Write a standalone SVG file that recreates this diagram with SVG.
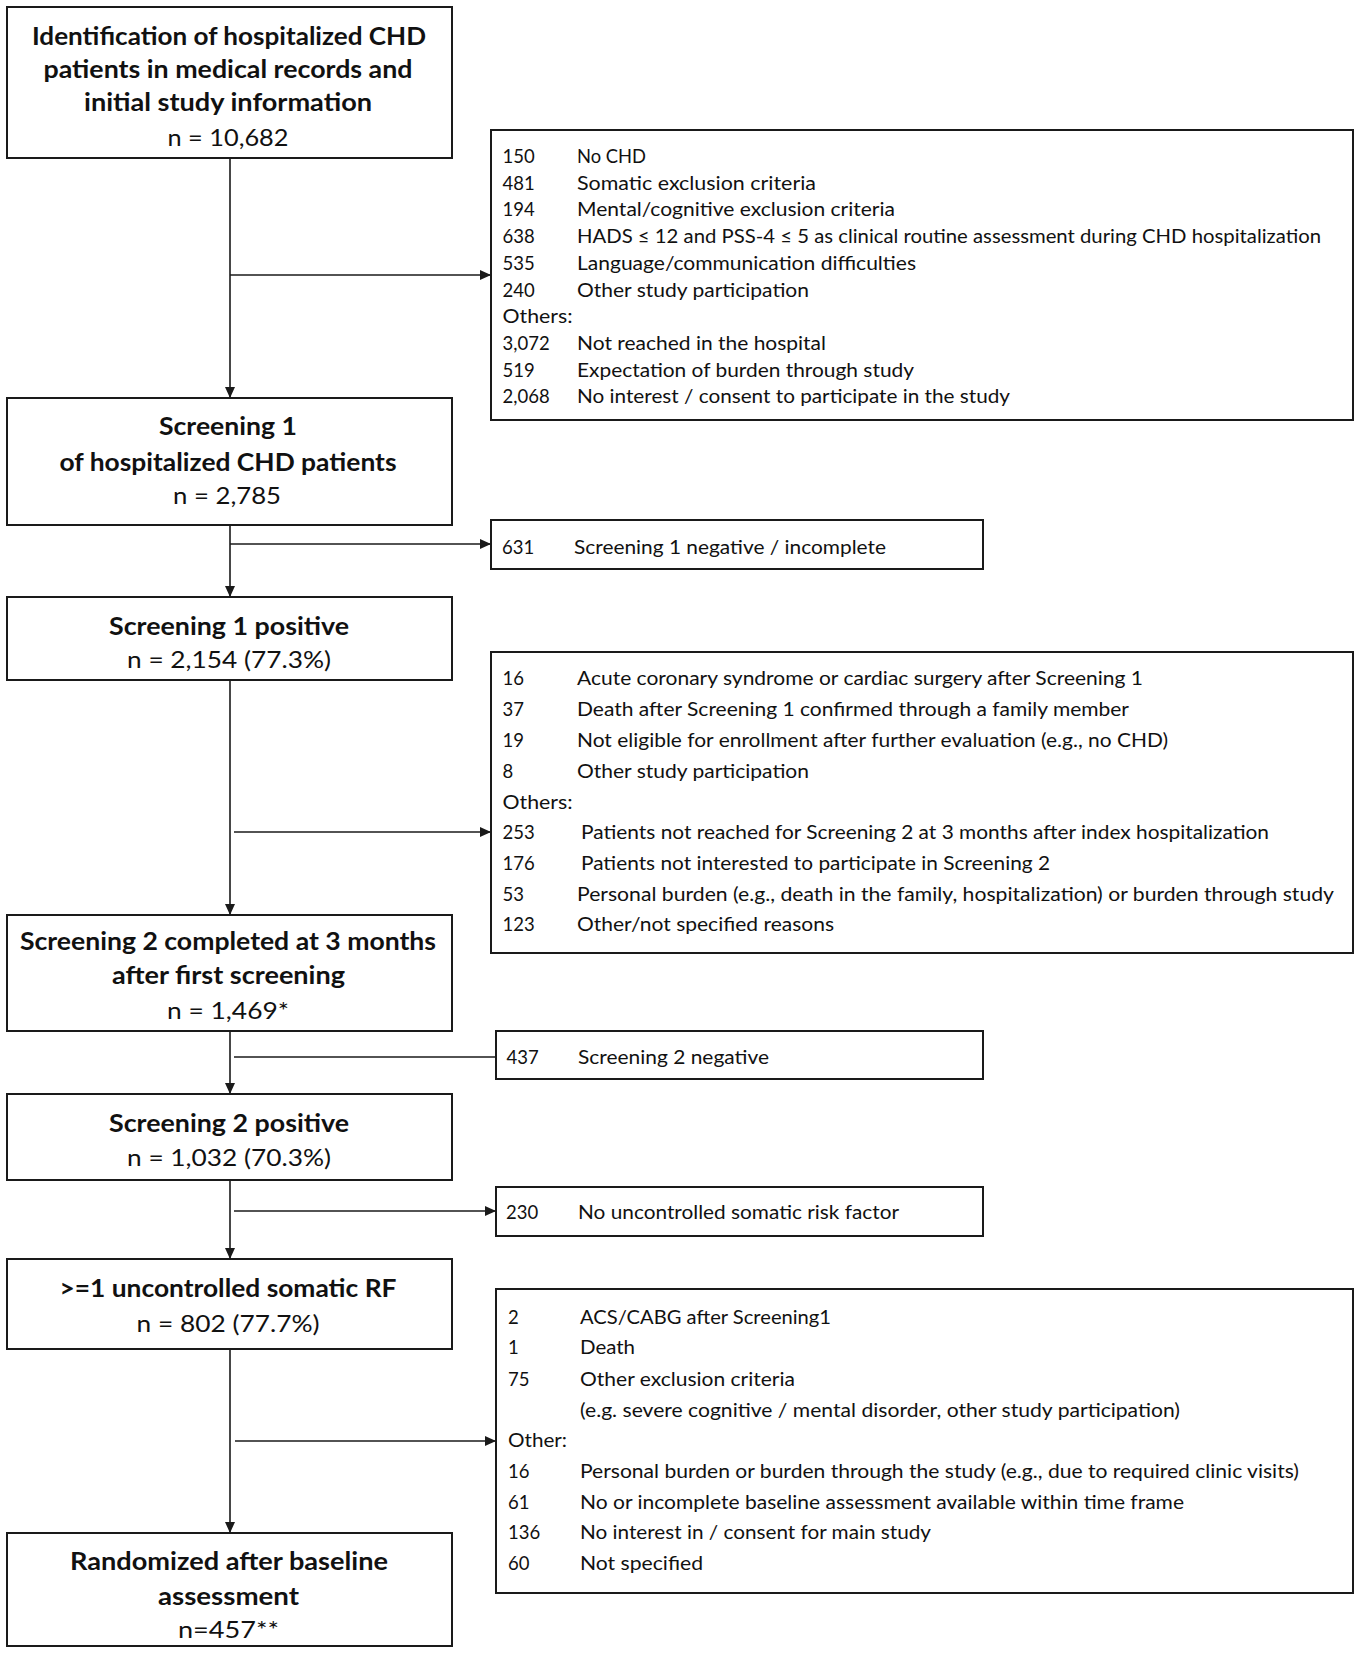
<svg xmlns="http://www.w3.org/2000/svg" width="1358" height="1653" viewBox="0 0 1358 1653">
<style>
.box{fill:#fff;stroke:#1a1a1a;stroke-width:2}
.ln{fill:none;stroke:#1a1a1a;stroke-width:1.6}
.h{font-family:Lato,"Liberation Sans",sans-serif;font-size:24px;font-weight:bold;fill:#111;text-anchor:middle}
.n{font-family:Lato,"Liberation Sans",sans-serif;font-size:24px;fill:#111;text-anchor:middle}
.t{font-family:Lato,"Liberation Sans",sans-serif;font-size:18.5px;fill:#111}
</style>
<defs>
<marker id="ah" markerUnits="userSpaceOnUse" markerWidth="12" markerHeight="10" refX="11" refY="5" orient="auto">
<path d="M0,0 L11,5 L0,10 Z" fill="#1a1a1a"/>
</marker>
</defs>
<rect width="1358" height="1653" fill="#fff"/>
<g id="connectors">
<line class="ln" x1="230" y1="158" x2="230" y2="398" marker-end="url(#ah)"/>
<line class="ln" x1="230" y1="525" x2="230" y2="597" marker-end="url(#ah)"/>
<line class="ln" x1="230" y1="680" x2="230" y2="915" marker-end="url(#ah)"/>
<line class="ln" x1="230" y1="1031" x2="230" y2="1094" marker-end="url(#ah)"/>
<line class="ln" x1="230" y1="1180" x2="230" y2="1259" marker-end="url(#ah)"/>
<line class="ln" x1="230" y1="1349" x2="230" y2="1533" marker-end="url(#ah)"/>
<line class="ln" x1="230" y1="275" x2="491" y2="275" marker-end="url(#ah)"/>
<line class="ln" x1="230" y1="544" x2="491" y2="544" marker-end="url(#ah)"/>
<line class="ln" x1="234" y1="832" x2="491" y2="832" marker-end="url(#ah)"/>
<line class="ln" x1="234" y1="1057" x2="496" y2="1057"/>
<line class="ln" x1="234" y1="1211" x2="496" y2="1211" marker-end="url(#ah)"/>
<line class="ln" x1="235" y1="1441" x2="496" y2="1441" marker-end="url(#ah)"/>
</g>
<g id="n1">
<rect class="box" x="7" y="7" width="445" height="151"/>
<text class="h" x="229" y="45" textLength="394" lengthAdjust="spacingAndGlyphs">Identification of hospitalized CHD</text>
<text class="h" x="228" y="78" textLength="369" lengthAdjust="spacingAndGlyphs">patients in medical records and</text>
<text class="h" x="228" y="111" textLength="288" lengthAdjust="spacingAndGlyphs">initial study information</text>
<text class="n" x="228" y="146" textLength="121" lengthAdjust="spacingAndGlyphs">n = 10,682</text>
</g>
<g id="n2">
<rect class="box" x="7" y="398" width="445" height="127"/>
<text class="h" x="228" y="435" textLength="138" lengthAdjust="spacingAndGlyphs">Screening 1</text>
<text class="h" x="228" y="471" textLength="337" lengthAdjust="spacingAndGlyphs">of hospitalized CHD patients</text>
<text class="n" x="227" y="504" textLength="108" lengthAdjust="spacingAndGlyphs">n = 2,785</text>
</g>
<g id="n3">
<rect class="box" x="7" y="597" width="445" height="83"/>
<text class="h" x="229" y="635" textLength="240" lengthAdjust="spacingAndGlyphs">Screening 1 positive</text>
<text class="n" x="229" y="668" textLength="204" lengthAdjust="spacingAndGlyphs">n = 2,154 (77.3%)</text>
</g>
<g id="n4">
<rect class="box" x="7" y="915" width="445" height="116"/>
<text class="h" x="228" y="950" textLength="416" lengthAdjust="spacingAndGlyphs">Screening 2 completed at 3 months</text>
<text class="h" x="228.5" y="984" textLength="233" lengthAdjust="spacingAndGlyphs">after first screening</text>
<text class="n" x="228" y="1019" textLength="122" lengthAdjust="spacingAndGlyphs">n = 1,469*</text>
</g>
<g id="n5">
<rect class="box" x="7" y="1094" width="445" height="86"/>
<text class="h" x="229" y="1132" textLength="240" lengthAdjust="spacingAndGlyphs">Screening 2 positive</text>
<text class="n" x="229" y="1166" textLength="204" lengthAdjust="spacingAndGlyphs">n = 1,032 (70.3%)</text>
</g>
<g id="n6">
<rect class="box" x="7" y="1259" width="445" height="90"/>
<text class="h" x="228" y="1297" textLength="337" lengthAdjust="spacingAndGlyphs">&gt;=1 uncontrolled somatic RF</text>
<text class="n" x="228" y="1332" textLength="183" lengthAdjust="spacingAndGlyphs">n = 802 (77.7%)</text>
</g>
<g id="n7">
<rect class="box" x="7" y="1533" width="445" height="113"/>
<text class="h" x="229" y="1570" textLength="318" lengthAdjust="spacingAndGlyphs">Randomized after baseline</text>
<text class="h" x="228.5" y="1605" textLength="141" lengthAdjust="spacingAndGlyphs">assessment</text>
<text class="n" x="228.5" y="1638" textLength="101" lengthAdjust="spacingAndGlyphs">n=457**</text>
</g>
<g id="r1">
<rect class="box" x="491" y="130" width="862" height="290"/>
<text class="t" x="502.5" y="163">150</text><text class="t" x="577" y="163" textLength="69" lengthAdjust="spacingAndGlyphs">No CHD</text>
<text class="t" x="502.5" y="189.7">481</text><text class="t" x="577" y="189.7" textLength="239" lengthAdjust="spacingAndGlyphs">Somatic  exclusion criteria</text>
<text class="t" x="502.5" y="216.4">194</text><text class="t" x="577" y="216.4" textLength="318" lengthAdjust="spacingAndGlyphs">Mental/cognitive exclusion criteria</text>
<text class="t" x="502.5" y="243.1">638</text><text class="t" x="577" y="243.1" textLength="744" lengthAdjust="spacingAndGlyphs">HADS ≤ 12  and PSS-4 ≤ 5 as clinical routine assessment during CHD hospitalization</text>
<text class="t" x="502.5" y="269.8">535</text><text class="t" x="577" y="269.8" textLength="339" lengthAdjust="spacingAndGlyphs">Language/communication difficulties</text>
<text class="t" x="502.5" y="296.5">240</text><text class="t" x="577" y="296.5" textLength="232" lengthAdjust="spacingAndGlyphs">Other study participation</text>
<text class="t" x="502.5" y="323.2" textLength="70" lengthAdjust="spacingAndGlyphs">Others:</text>
<text class="t" x="502.5" y="349.9">3,072</text><text class="t" x="577" y="349.9" textLength="249" lengthAdjust="spacingAndGlyphs">Not reached in the hospital</text>
<text class="t" x="502.5" y="376.6">519</text><text class="t" x="577" y="376.6" textLength="337" lengthAdjust="spacingAndGlyphs">Expectation of burden through study</text>
<text class="t" x="502.5" y="403.3">2,068</text><text class="t" x="577" y="403.3" textLength="433" lengthAdjust="spacingAndGlyphs">No interest / consent to participate in the study</text>
</g>
<g id="r2">
<rect class="box" x="491" y="520" width="492" height="49"/>
<text class="t" x="502" y="554">631</text><text class="t" x="574" y="554" textLength="312" lengthAdjust="spacingAndGlyphs">Screening 1 negative / incomplete</text>
</g>
<g id="r3">
<rect class="box" x="491" y="652" width="862" height="301"/>
<text class="t" x="502.5" y="685">16</text><text class="t" x="577" y="685" textLength="566" lengthAdjust="spacingAndGlyphs">Acute coronary syndrome  or cardiac surgery after Screening 1</text>
<text class="t" x="502.5" y="716">37</text><text class="t" x="577" y="716" textLength="552" lengthAdjust="spacingAndGlyphs">Death after Screening 1 confirmed through a family member</text>
<text class="t" x="502.5" y="747">19</text><text class="t" x="577" y="747" textLength="591" lengthAdjust="spacingAndGlyphs">Not eligible for enrollment after further evaluation (e.g., no CHD)</text>
<text class="t" x="502.5" y="778">8</text><text class="t" x="577" y="778" textLength="232" lengthAdjust="spacingAndGlyphs">Other study participation</text>
<text class="t" x="502.5" y="809" textLength="70" lengthAdjust="spacingAndGlyphs">Others:</text>
<text class="t" x="502.5" y="839">253</text><text class="t" x="581" y="839" textLength="688" lengthAdjust="spacingAndGlyphs">Patients not reached for Screening 2 at 3  months after index hospitalization</text>
<text class="t" x="502.5" y="870">176</text><text class="t" x="581" y="870" textLength="469" lengthAdjust="spacingAndGlyphs">Patients not interested to participate in Screening 2</text>
<text class="t" x="502.5" y="901">53</text><text class="t" x="577" y="901" textLength="757" lengthAdjust="spacingAndGlyphs">Personal burden (e.g., death in the family, hospitalization) or burden through study</text>
<text class="t" x="502.5" y="931">123</text><text class="t" x="577" y="931" textLength="257" lengthAdjust="spacingAndGlyphs">Other/not specified reasons</text>
</g>
<g id="r4">
<rect class="box" x="496" y="1031" width="487" height="48"/>
<text class="t" x="506.5" y="1064">437</text><text class="t" x="578" y="1064" textLength="191" lengthAdjust="spacingAndGlyphs">Screening 2 negative</text>
</g>
<g id="r5">
<rect class="box" x="496" y="1187" width="487" height="49"/>
<text class="t" x="506" y="1219">230</text><text class="t" x="578" y="1219" textLength="321" lengthAdjust="spacingAndGlyphs">No uncontrolled somatic risk factor</text>
</g>
<g id="r6">
<rect class="box" x="496" y="1289" width="857" height="304"/>
<text class="t" x="508" y="1324">2</text><text class="t" x="580" y="1324" textLength="251" lengthAdjust="spacingAndGlyphs">ACS/CABG after Screening1</text>
<text class="t" x="508" y="1354">1</text><text class="t" x="580" y="1354" textLength="55" lengthAdjust="spacingAndGlyphs">Death</text>
<text class="t" x="508" y="1386">75</text><text class="t" x="580" y="1386" textLength="215" lengthAdjust="spacingAndGlyphs">Other exclusion criteria</text>
<text class="t" x="580" y="1417" textLength="600" lengthAdjust="spacingAndGlyphs">(e.g. severe cognitive / mental disorder, other study participation)</text>
<text class="t" x="508" y="1447" textLength="59" lengthAdjust="spacingAndGlyphs">Other:</text>
<text class="t" x="508" y="1478">16</text><text class="t" x="580" y="1478" textLength="719" lengthAdjust="spacingAndGlyphs">Personal burden or burden through the study (e.g., due to required clinic visits)</text>
<text class="t" x="508" y="1509">61</text><text class="t" x="580" y="1509" textLength="604" lengthAdjust="spacingAndGlyphs">No or  incomplete baseline assessment available within time frame</text>
<text class="t" x="508" y="1539">136</text><text class="t" x="580" y="1539" textLength="351" lengthAdjust="spacingAndGlyphs">No interest in / consent for main study</text>
<text class="t" x="508" y="1570">60</text><text class="t" x="580" y="1570" textLength="123" lengthAdjust="spacingAndGlyphs">Not specified</text>
</g>
</svg>
